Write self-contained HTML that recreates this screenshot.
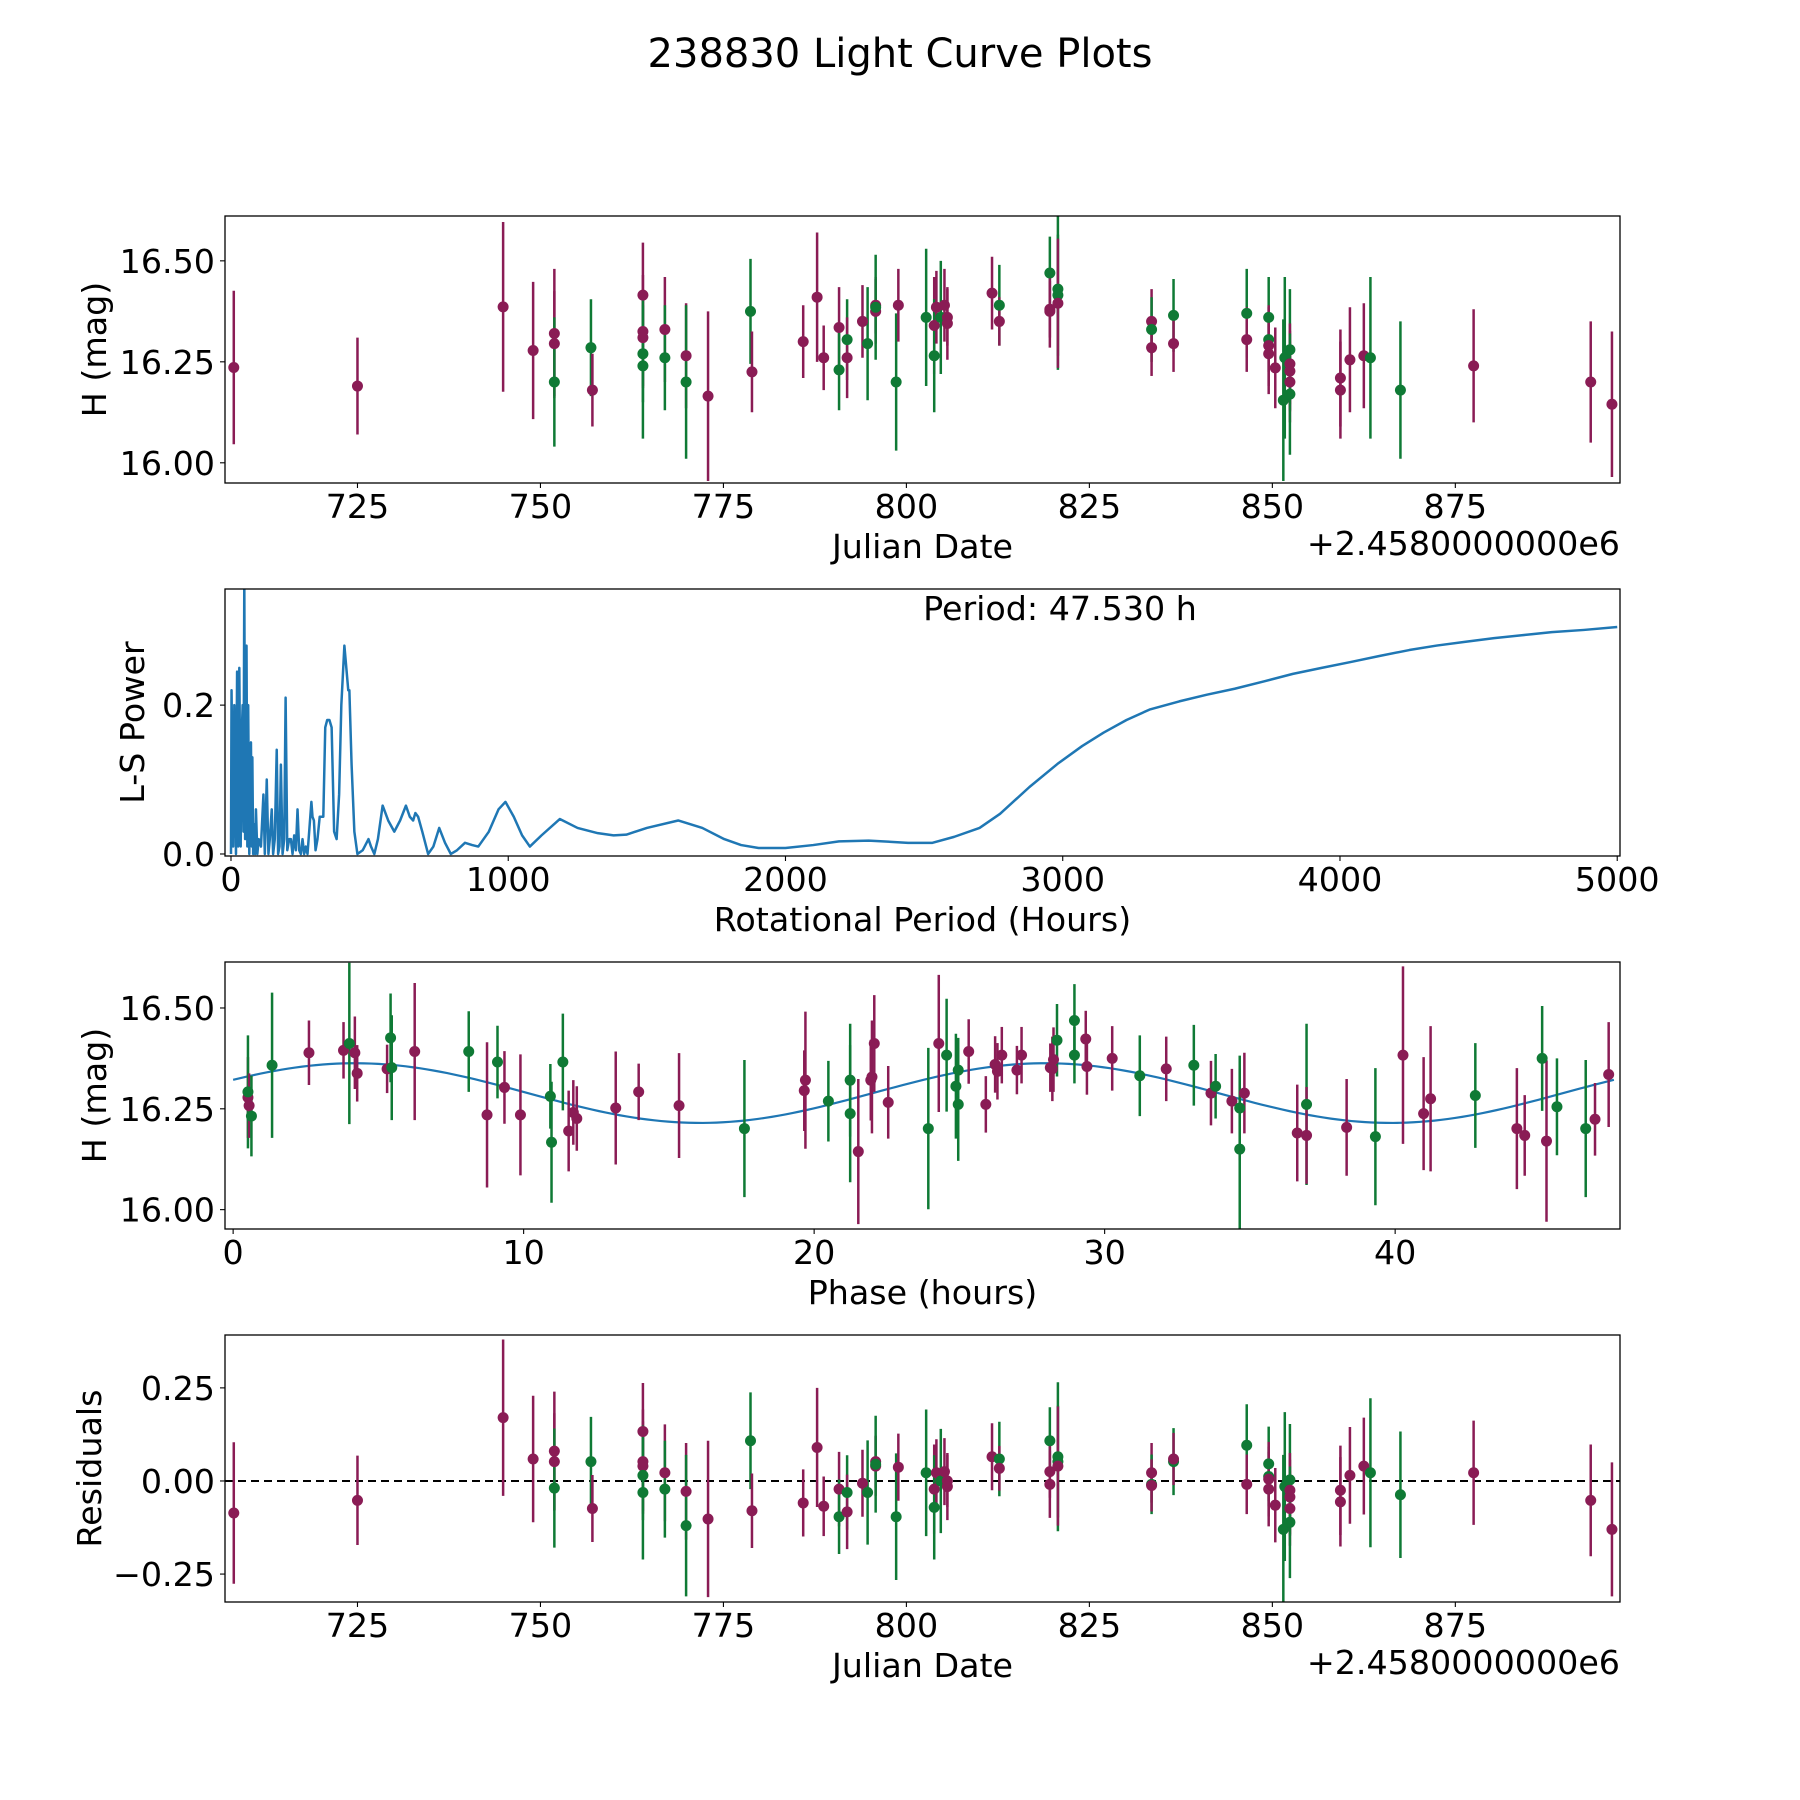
<!DOCTYPE html>
<html><head><meta charset="utf-8">
<style>
html,body{margin:0;padding:0;background:#fff;}
svg{display:block;}
text{font-family:"DejaVu Sans","Liberation Sans",sans-serif;fill:#000;}
</style></head>
<body>
<svg id="fig" width="1800" height="1800" viewBox="0 0 1800 1800" xmlns="http://www.w3.org/2000/svg">
<rect x="0" y="0" width="1800" height="1800" fill="#fff"/>
<text x="900" y="67" font-size="40" text-anchor="middle">238830 Light Curve Plots</text>
</svg>
<script>
// ---------- data ----------
const jdDays=[708.1,725.0,744.9,749.0,751.9,751.9,751.9,756.9,757.1,764.0,764.0,764.0,764.0,764.0,767.0,767.0,769.9,769.9,772.9,778.7,778.9,785.9,787.8,788.7,790.8,790.8,791.9,791.9,794.0,794.7,795.8,795.8,795.8,798.6,798.9,802.7,803.8,803.8,804.1,804.7,805.2,805.6,805.6,811.7,812.7,812.7,819.6,819.6,819.6,820.7,820.7,820.7,833.5,833.5,833.5,836.5,836.5,846.5,846.5,849.5,849.5,849.5,849.5,850.4,851.5,851.7,852.4,852.4,852.4,852.4,852.4,859.3,859.3,860.6,862.5,863.4,867.5,877.5,893.5,896.4];
const jdMags=[16.236,16.19,16.386,16.278,16.32,16.295,16.20,16.285,16.18,16.415,16.325,16.31,16.27,16.24,16.33,16.26,16.265,16.2,16.165,16.375,16.225,16.30,16.41,16.26,16.335,16.23,16.305,16.26,16.35,16.295,16.39,16.375,16.385,16.2,16.39,16.36,16.34,16.265,16.385,16.36,16.39,16.36,16.345,16.42,16.39,16.35,16.47,16.38,16.375,16.43,16.415,16.395,16.35,16.33,16.285,16.365,16.295,16.37,16.305,16.36,16.305,16.29,16.27,16.235,16.155,16.26,16.28,16.245,16.227,16.2,16.17,16.21,16.18,16.255,16.265,16.26,16.18,16.24,16.2,16.145];
const jdErrs=[0.19,0.12,0.21,0.17,0.16,0.13,0.16,0.12,0.09,0.13,0.14,0.12,0.12,0.18,0.13,0.13,0.13,0.19,0.21,0.13,0.1,0.09,0.16,0.08,0.1,0.1,0.1,0.1,0.09,0.14,0.07,0.08,0.13,0.17,0.09,0.17,0.12,0.14,0.09,0.14,0.09,0.07,0.09,0.09,0.1,0.06,0.09,0.07,0.09,0.2,0.15,0.16,0.08,0.08,0.07,0.09,0.07,0.11,0.08,0.1,0.08,0.1,0.1,0.1,0.2,0.2,0.15,0.1,0.1,0.1,0.15,0.12,0.12,0.13,0.13,0.2,0.17,0.14,0.15,0.18];
const residuals=[-0.086,-0.052,0.17,0.059,0.08,0.052,-0.019,0.052,-0.074,0.133,0.052,0.04,0.015,-0.031,0.022,-0.022,-0.028,-0.12,-0.102,0.108,-0.08,-0.059,0.09,-0.068,-0.022,-0.096,-0.031,-0.083,-0.006,-0.031,0.052,0.04,0.045,-0.096,0.037,0.022,-0.022,-0.071,0.022,0.0,0.025,0.0,-0.015,0.065,0.059,0.034,0.108,0.025,-0.009,0.065,0.052,0.04,0.022,-0.009,-0.012,0.052,0.059,0.096,-0.009,0.046,0.012,-0.022,0.005,-0.065,-0.13,-0.015,0.003,-0.043,-0.074,-0.025,-0.111,-0.025,-0.056,0.015,0.04,0.022,-0.037,0.022,-0.052,-0.13];
// filter per point (p = purple, g = green)
const jdColors=["p","p","p","p","p","p","g","g","p","p","p","p","g","g","p","g","p","g","p","g","p","p","p","p","p","g","g","p","p","g","p","p","g","g","p","g","p","g","p","g","p","p","p","p","g","p","g","p","p","g","g","p","p","g","p","g","p","g","p","g","g","p","p","p","g","g","g","p","p","p","g","p","p","p","p","g","g","p","p","p"];

const phaseHours=[0.51,0.51,0.55,0.63,1.34,2.61,3.8,4.0,4.19,4.27,5.3,5.42,5.46,6.25,8.11,8.74,9.1,9.34,9.89,10.92,10.96,11.35,11.55,11.71,11.83,13.17,13.96,15.35,17.6,19.66,19.7,20.49,21.24,21.24,21.52,21.95,21.99,22.07,22.55,23.93,24.29,24.56,24.88,24.96,24.96,25.32,25.91,26.23,26.31,26.46,26.98,27.14,28.13,28.2,28.24,28.36,28.96,28.96,29.35,29.39,30.26,31.21,32.12,33.07,33.66,33.82,34.38,34.65,34.65,34.81,36.63,36.95,36.95,38.33,39.32,40.27,40.98,41.22,42.76,44.19,44.46,45.06,45.21,45.57,46.56,46.88,47.35];
const phaseMags=[16.278,16.292,16.258,16.232,16.358,16.389,16.395,16.412,16.389,16.338,16.349,16.426,16.352,16.392,16.392,16.235,16.366,16.303,16.235,16.281,16.167,16.366,16.195,16.241,16.226,16.252,16.292,16.258,16.201,16.295,16.321,16.269,16.321,16.238,16.144,16.321,16.329,16.412,16.266,16.201,16.412,16.383,16.306,16.346,16.261,16.392,16.261,16.36,16.343,16.383,16.346,16.383,16.352,16.349,16.372,16.42,16.469,16.383,16.423,16.355,16.375,16.332,16.349,16.358,16.289,16.306,16.269,16.252,16.15,16.289,16.19,16.261,16.184,16.204,16.181,16.383,16.238,16.275,16.283,16.201,16.184,16.375,16.17,16.255,16.201,16.224,16.335];
const phaseErrs=[0.1,0.14,0.08,0.1,0.18,0.08,0.07,0.2,0.09,0.07,0.06,0.11,0.13,0.17,0.1,0.18,0.09,0.09,0.15,0.08,0.15,0.12,0.1,0.08,0.08,0.14,0.07,0.13,0.17,0.1,0.17,0.1,0.14,0.17,0.18,0.1,0.14,0.12,0.09,0.2,0.17,0.14,0.13,0.08,0.14,0.08,0.07,0.07,0.07,0.07,0.06,0.07,0.06,0.08,0.08,0.09,0.09,0.07,0.07,0.07,0.08,0.1,0.08,0.1,0.08,0.08,0.08,0.13,0.2,0.1,0.12,0.2,0.12,0.12,0.17,0.22,0.14,0.18,0.13,0.15,0.1,0.13,0.2,0.12,0.17,0.09,0.13];
const phaseColors=["p","g","p","g","g","p","p","g","p","p","p","g","g","p","g","p","g","p","p","g","g","g","p","p","p","p","p","p","g","p","p","g","g","g","p","p","p","p","p","g","p","g","g","g","g","p","p","p","p","p","p","p","p","p","p","g","g","g","p","p","p","g","p","g","p","g","p","g","g","p","p","g","p","p","g","p","p","p","g","p","p","g","p","g","g","p","p"];
// fitted model parameters
const fitPeriod=47.530, fitMean=16.289, fitAmp=0.074, fitPeakPhase=4.2;

const lsPeriods=[0,2,8,12,18,22,26,30,35,38,42,45,48,51,56,59,62,66,72,75,77,80,84,87,90,95,100,108,117,122,129,135,140,147,152,158,165,170,175,180,186,192,197,203,210,216,222,228,234,240,246,252,258,264,270,276,283,290,294,299,305,312,320,333,340,347,355,363,372,381,390,398,409,416,423,427,435,445,456,475,496,505,517,530,547,567,589,610,631,645,657,665,675,690,711,730,751,772,793,815,844,870,892,930,965,990,1020,1050,1078,1120,1186,1250,1323,1380,1426,1500,1613,1700,1779,1840,1903,2000,2100,2193,2300,2442,2530,2608,2700,2774,2880,2981,3070,3147,3230,3313,3420,3520,3620,3727,3830,3934,4040,4142,4250,4349,4450,4556,4660,4764,4880,5000];
const lsPower=[0.0,0.22,0.01,0.2,0.0,0.245,0.01,0.25,0.01,0.15,0.2,0.03,0.37,0.02,0.28,0.01,0.2,0.0,0.15,0.01,0.13,0.0,0.04,0.0,0.06,0.0,0.02,0.01,0.08,0.0,0.1,0.0,0.02,0.06,0.0,0.02,0.14,0.0,0.01,0.12,0.0,0.02,0.21,0.005,0.02,0.02,0.0,0.025,0.005,0.06,0.005,0.0,0.02,0.0,0.01,0.0,0.035,0.07,0.05,0.045,0.005,0.02,0.05,0.05,0.17,0.18,0.18,0.17,0.03,0.02,0.08,0.2,0.28,0.25,0.22,0.22,0.12,0.03,0.0,0.005,0.02,0.01,0.0,0.02,0.065,0.045,0.03,0.045,0.065,0.05,0.045,0.055,0.05,0.03,0.0,0.01,0.035,0.015,0.0,0.005,0.015,0.012,0.01,0.03,0.06,0.07,0.05,0.025,0.01,0.025,0.047,0.035,0.028,0.025,0.026,0.035,0.045,0.035,0.02,0.012,0.008,0.008,0.012,0.017,0.018,0.015,0.015,0.023,0.035,0.054,0.09,0.121,0.145,0.163,0.18,0.194,0.205,0.214,0.222,0.232,0.242,0.25,0.258,0.266,0.274,0.28,0.285,0.29,0.294,0.298,0.301,0.305];

const xTicksJD=[725,750,775,800,825,850,875];
const yTicksMag=[16.00,16.25,16.50];
const yTickMagLabels=["16.00","16.25","16.50"];
const xTicksLS=[0,1000,2000,3000,4000,5000];
const yTicksLS=[0.0,0.2];
const yTickLSLabels=["0.0","0.2"];
const xTicksPhase=[0,10,20,30,40];
const yTicksRes=[-0.25,0.00,0.25];
const yTickResLabels=["\u22120.25","0.00","0.25"];

// ---------- rendering ----------
const NS="http://www.w3.org/2000/svg";
const svg=document.getElementById('fig');
const COL={p:"#8a1c55",g:"#0f7a35"};
const L=225,R=1620,FS=33.3;
function mk(tag,attrs,parent){const e=document.createElementNS(NS,tag);for(const k in attrs)e.setAttribute(k,attrs[k]);(parent||svg).appendChild(e);return e;}
function scale(d0,d1,r0,r1){return v=>r0+(v-d0)*(r1-r0)/(d1-d0);}

function makeAxes(id,top,bot,xd,yd){
  const g=mk('g',{});
  
  
  const cp=mk('clipPath',{id:'clip-'+id},g);
  mk('rect',{x:L,y:top,width:R-L,height:bot-top},cp);
  const plot=mk('g',{'clip-path':'url(#clip-'+id+')'},g);
  
  
  return {g,plot,top,bot,x:scale(xd[0],xd[1],L,R),y:scale(yd[0],yd[1],bot,top)};
}
function frame(ax){
  const r=mk('rect',{x:L,y:ax.top,width:R-L,height:ax.bot-ax.top,fill:'none',stroke:'#000','stroke-width':1.3},ax.g);
  
  
}
function xticks(ax,vals,labels,name){
  vals.forEach((v,i)=>{
    const X=ax.x(v);
    mk('line',{x1:X,x2:X,y1:ax.bot,y2:ax.bot+5,stroke:'#000','stroke-width':1.1},ax.g);
    const t=mk('text',{x:X,y:ax.bot+35,'font-size':FS,'text-anchor':'middle'},ax.g);
    
    
    t.textContent=labels?labels[i]:String(v);
  });
}
function yticks(ax,vals,labels,name){
  vals.forEach((v,i)=>{
    const Y=ax.y(v);
    mk('line',{x1:L-5,x2:L,y1:Y,y2:Y,stroke:'#000','stroke-width':1.1},ax.g);
    const t=mk('text',{x:L-10,y:Y+12,'font-size':FS,'text-anchor':'end'},ax.g);
    
    
    t.textContent=labels[i];
  });
}
function xlabel(ax,txt,name){
  const t=mk('text',{x:(L+R)/2,y:ax.bot+75,'font-size':FS,'text-anchor':'middle'},ax.g);
  
  
  t.textContent=txt;
}
function ylabel(ax,txt,cx,name){
  const cy=(ax.top+ax.bot)/2;
  const t=mk('text',{x:cx,y:cy,'font-size':FS,'text-anchor':'middle',transform:'rotate(-90 '+cx+' '+cy+')'},ax.g);
  
  
  t.textContent=txt;
}
function offsetText(ax){
  const t=mk('text',{x:R,y:ax.bot+72,'font-size':FS,'text-anchor':'end'},ax.g);
  
  
  t.textContent='+2.4580000000e6';
}
function errorbars(ax,xs,ys,es,cs,name){
  xs.forEach((xv,i)=>{
    const X=ax.x(xv),c=COL[cs[i]]||COL.p;
    const ln=mk('line',{x1:X,x2:X,y1:ax.y(ys[i]-es[i]),y2:ax.y(ys[i]+es[i]),stroke:c,'stroke-width':2.5},ax.plot);
    
    
  });
  xs.forEach((xv,i)=>{
    const c=COL[cs[i]]||COL.p;
    const pt=mk('circle',{cx:ax.x(xv),cy:ax.y(ys[i]),r:5.5,fill:c},ax.plot);
    
    
  });
}

// Panel 1: light curve
const ax1=makeAxes('light-curve',216,483,[706.9,897.5],[15.95,16.611]);
errorbars(ax1,jdDays,jdMags,jdErrs,jdColors,'magnitude');
frame(ax1);xticks(ax1,xTicksJD,null,'jd-x');yticks(ax1,yTicksMag,yTickMagLabels,'mag-y');
xlabel(ax1,'Julian Date','x-axis-title-julian-date');ylabel(ax1,'H (mag)',106,'y-axis-title-h-mag');offsetText(ax1);

// Panel 2: periodogram
const ax2=makeAxes('periodogram',589,856,[-21.6,5010],[-0.0027,0.356]);
let d='';lsPeriods.forEach((p,i)=>{d+=(i?'L':'M')+ax2.x(p).toFixed(2)+' '+ax2.y(lsPower[i]).toFixed(2);});
const pl=mk('path',{d:d,fill:'none',stroke:'#1f77b4','stroke-width':2.5,'stroke-linejoin':'round'},ax2.plot);


frame(ax2);xticks(ax2,xTicksLS,null,'period-x');yticks(ax2,yTicksLS,yTickLSLabels,'power-y');
xlabel(ax2,'Rotational Period (Hours)','x-axis-title-rotational-period');ylabel(ax2,'L-S Power',144,'y-axis-title-ls-power');
const pt=mk('text',{x:1060,y:620,'font-size':FS,'text-anchor':'middle'},ax2.g);


pt.textContent='Period: '+fitPeriod.toFixed(3)+' h';

// Panel 3: phase-folded
const ax3=makeAxes('phase-folded',962,1229,[-0.28,47.74],[15.952,16.614]);
let m='';for(let k=0;k<=200;k++){const t=fitPeriod*k/200;const v=fitMean+fitAmp*Math.cos(4*Math.PI*(t-fitPeakPhase)/fitPeriod);m+=(k?'L':'M')+ax3.x(t).toFixed(2)+' '+ax3.y(v).toFixed(2);}
const ml=mk('path',{d:m,fill:'none',stroke:'#1f77b4','stroke-width':2.2},ax3.plot);


errorbars(ax3,phaseHours,phaseMags,phaseErrs,phaseColors,'phase');
frame(ax3);xticks(ax3,xTicksPhase,null,'phase-x');yticks(ax3,yTicksMag,yTickMagLabels,'phase-mag-y');
xlabel(ax3,'Phase (hours)','x-axis-title-phase');ylabel(ax3,'H (mag)',106,'y-axis-title-phase-mag');

// Panel 4: residuals
const ax4=makeAxes('residuals',1335,1602,[706.9,897.5],[-0.325,0.392]);
const zl=mk('line',{x1:L,x2:R,y1:ax4.y(0),y2:ax4.y(0),stroke:'#000','stroke-width':2,'stroke-dasharray':'8,5'},ax4.plot);


errorbars(ax4,jdDays,residuals,jdErrs,jdColors,'residual');
frame(ax4);xticks(ax4,xTicksJD,null,'res-x');yticks(ax4,yTicksRes,yTickResLabels,'res-y');
xlabel(ax4,'Julian Date','x-axis-title-residual-julian-date');ylabel(ax4,'Residuals',101,'y-axis-title-residuals');offsetText(ax4);
</script>
</body></html>
